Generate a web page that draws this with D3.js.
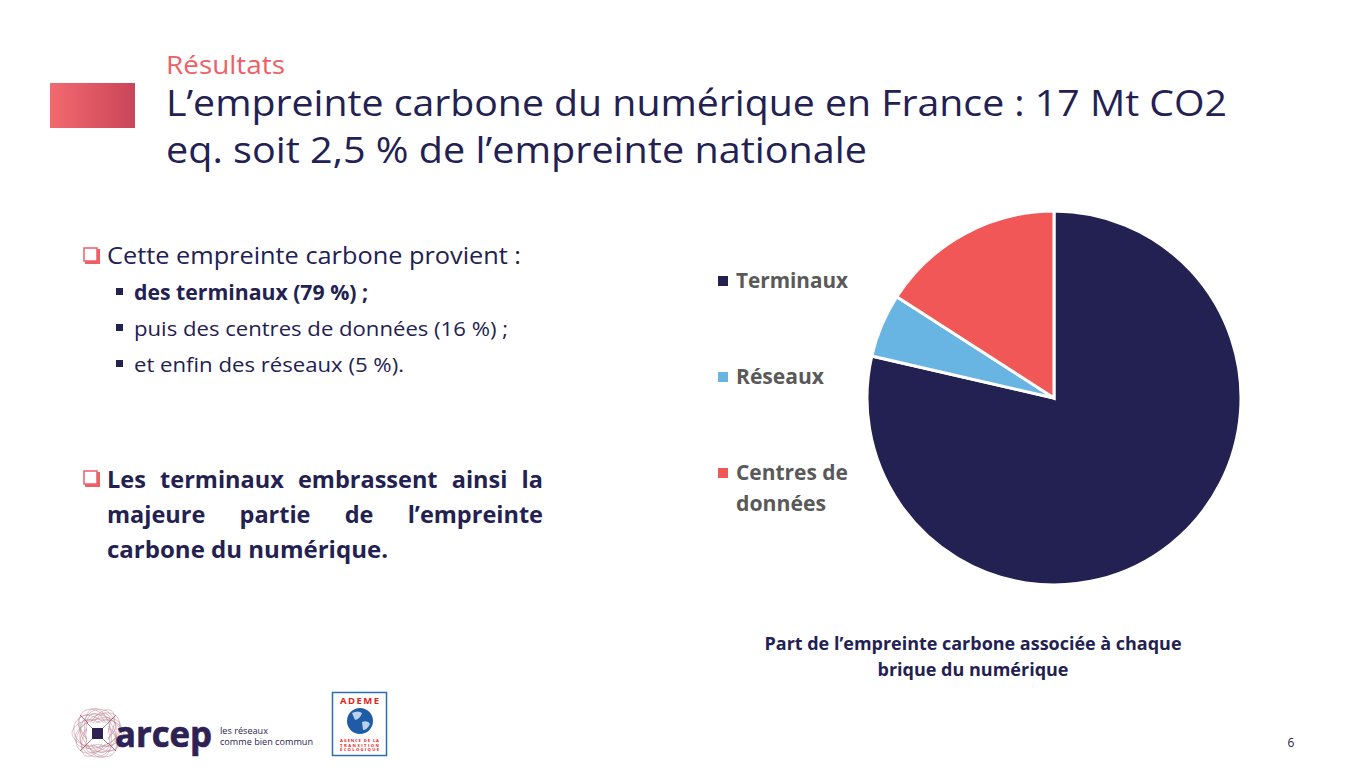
<!DOCTYPE html>
<html lang="fr"><head><meta charset="utf-8">
<script src="https://cdn.jsdelivr.net/npm/d3@7"></script>
<style>html,body{margin:0;padding:0;background:#fff;overflow:hidden}svg{display:block}text{font-family:"Open Sans",sans-serif}</style>
</head><body><svg id="c" width="1358" height="782"></svg>
<script>
const categories = ["Terminaux","Réseaux","Centres de données"];
const shares = [78.6,5.5,15.9];
const sliceColors = ["#232152","#68B4E3","#F25757"];
const legendLines = [["Terminaux"],["Réseaux"],["Centres de","données"]];
const navy = "#232152", coral="#EE5F66";
const svg = d3.select("#c");
const defs = svg.append("defs");
const g = defs.append("linearGradient").attr("id","hdr");
g.append("stop").attr("offset","0").attr("stop-color","#F4696F");
g.append("stop").attr("offset","1").attr("stop-color","#C94558");
svg.append("rect").attr("x",50).attr("y",83).attr("width",85).attr("height",45).attr("fill","url(#hdr)");
function t(x,y,s,size,opts={}){
  const e = svg.append("text").attr("x",x).attr("y",y).attr("font-size",size).attr("fill",opts.fill||navy).text(s);
  if(opts.weight) e.attr("font-weight",opts.weight);
  if(opts.anchor) e.attr("text-anchor",opts.anchor);
  if(opts.len) e.attr("textLength",opts.len).attr("lengthAdjust",opts.adj||"spacingAndGlyphs");
  return e;
}
function justified(x,y,s,size,width,weight){
  const e = t(x,y,s,size,{weight});
  const gaps = s.split(" ").length-1;
  e.attr("word-spacing",(width-e.node().getComputedTextLength())/gaps);
}
t(166,74,"Résultats",26,{fill:coral,len:119});
t(166,116,"L’empreinte carbone du numérique en France : 17 Mt CO2",36,{len:1061});
t(166,163,"eq. soit 2,5 % de l’empreinte nationale",36,{len:701});

function box(x,y){
  svg.append("rect").attr("x",x+1).attr("y",y+1).attr("width",15).attr("height",15).attr("fill",coral);
  svg.append("rect").attr("x",x).attr("y",y).attr("width",13).attr("height",13).attr("fill","#fff").attr("stroke",coral).attr("stroke-width",1.5);
}
box(84,248);
t(107,264,"Cette empreinte carbone provient :",24,{len:414});
const subs=[["des terminaux (79 %) ;",300,"700",234],["puis des centres de données (16 %) ;",336,null,374],["et enfin des réseaux (5 %).",372,null,270]];
subs.forEach(d=>{
  svg.append("rect").attr("x",116).attr("y",d[1]-12).attr("width",7).attr("height",7).attr("fill",navy);
  t(134,d[1],d[0],20.5,{weight:d[2],len:d[3]});
});
box(84,471);
justified(107,488,"Les terminaux embrassent ainsi la",23.5,436,700);
justified(107,523,"majeure partie de l’empreinte",23.5,436,700);
t(107,558,"carbone du numérique.",23.5,{weight:700,len:281});

const pie = d3.pie().sort(null)(shares);
const arc = d3.arc().innerRadius(0).outerRadius(187);
svg.append("g").attr("transform","translate(1054,398)").selectAll("path").data(pie).join("path")
  .attr("d",arc).attr("fill",(d,i)=>sliceColors[i]).attr("stroke","#fff").attr("stroke-width",3);

const legY = d3.scalePoint().domain(categories).range([281,473]);
categories.forEach((c,i)=>{
  const y=legY(c);
  svg.append("rect").attr("x",718).attr("y",y-5).attr("width",10).attr("height",10).attr("fill",sliceColors[i]);
  legendLines[i].forEach((l,j)=>t(736,y+7+j*31,l,22,{weight:700,fill:"#595959",len:[[112],[88],[112,90]][i][j]}));
});
t(973,650,"Part de l’empreinte carbone associée à chaque",18,{weight:700,anchor:"middle",len:417});
t(973,676,"brique du numérique",18,{weight:700,anchor:"middle",len:191});
t(1291,747,"6",12,{anchor:"middle",fill:"#232152"});

// arcep logo
const lg = svg.append("g").attr("transform","translate(98,733)");
const scribble = [[26,14,0],[25,18,20],[24,12,40],[26,16,60],[25,13,80],[24,18,100],[26,12,120],[25,16,140],[24,14,160],[20,10,30],[20,11,75],[21,9,115],[20,10,150]];
lg.selectAll("ellipse").data(scribble).join("ellipse")
  .attr("rx",d=>d[0]).attr("ry",d=>d[1]).attr("transform",d=>`rotate(${d[2]})`)
  .attr("fill","none").attr("stroke","#B9808F").attr("stroke-width",.6).attr("opacity",.75);
lg.append("path").attr("d","M-18 -18L18 18M18 -18L-18 18").attr("stroke","#A2475C").attr("stroke-width",.8);
lg.append("rect").attr("x",-11).attr("y",-10).attr("width",21).attr("height",21).attr("fill","#fff");
lg.append("rect").attr("x",-6).attr("y",-5).attr("width",11).attr("height",11).attr("fill","#2E2255");
lg.append("path").attr("d","M-11 -10L-6 -5M10 -10L5 -5M-11 11L-6 6M10 11L5 6").attr("stroke","#A2879A").attr("stroke-width",1);
t(115,747,"arcep",36,{weight:700,fill:"#2E2255",len:97}).attr("stroke","#2E2255").attr("stroke-width",.7);
t(220,734,"les réseaux",9,{fill:"#2E2255",len:48});
t(220,745,"comme bien commun",9,{fill:"#2E2255",len:93});

// ADEME logo
svg.append("rect").attr("x",332.5).attr("y",692.5).attr("width",54).attr("height",63).attr("fill","#fff").attr("stroke","#2D6CB0").attr("stroke-width",1.5);
t(340,704,"ADEME",9.5,{weight:700,fill:"#E2231A",len:39,adj:"spacing"});
svg.append("circle").attr("cx",360).attr("cy",721).attr("r",13).attr("fill","#1F5CA8");
svg.append("path").attr("d","M352 713q6 -3 10 0q-2 6 -7 7zM362 722q6 -2 8 2q-3 6 -7 6z").attr("fill","#BBD2E8");
[["AGENCE DE LA",741.5,39],["TRANSITION",746.5,39],["ÉCOLOGIQUE",751,39]].forEach(d=>t(340,d[1],d[0],4.2,{weight:700,fill:"#E2231A",len:d[2],adj:"spacing"}));
</script></body></html>
